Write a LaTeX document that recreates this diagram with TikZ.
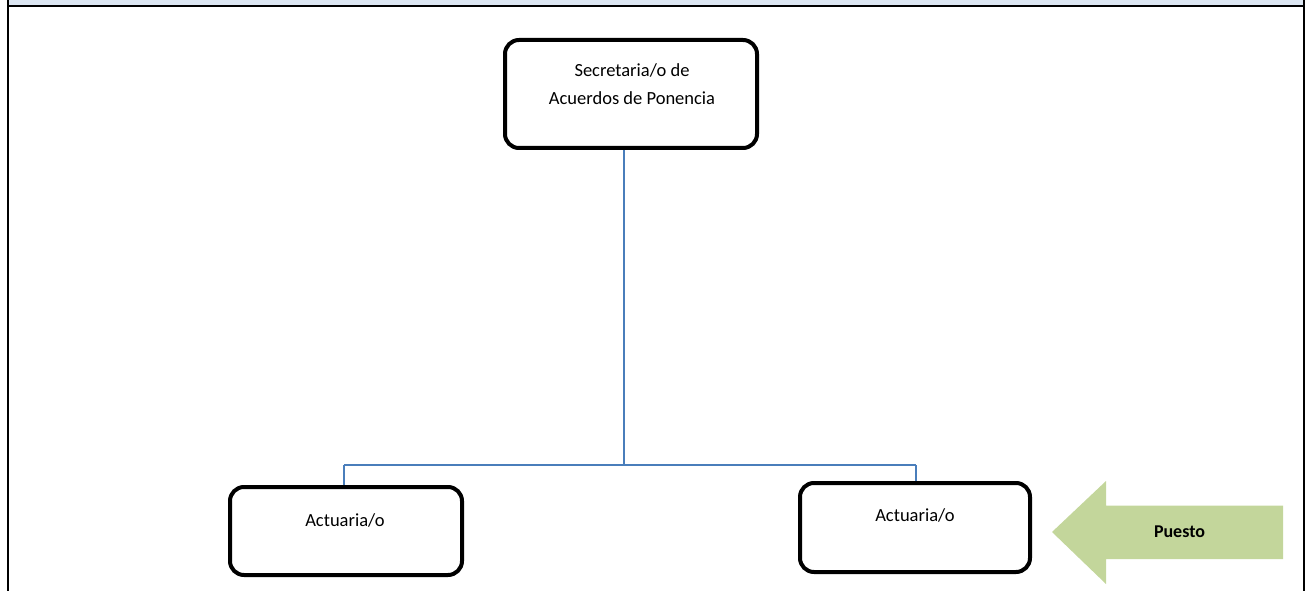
\documentclass[tikz,border=0pt]{standalone}
\usepackage{fontspec}
\setmainfont{Carlito}
\definecolor{bandblue}{HTML}{DCE6F2}
\definecolor{connblue}{HTML}{4A7EBB}
\definecolor{arrowgreen}{HTML}{C3D69B}
\begin{document}
\begin{tikzpicture}[x=1pt,y=-1pt,
  posbox/.style={draw=black, line width=4pt, rounded corners=14pt, fill=white, inner sep=0pt},
  boxtext/.style={font=\fontsize{18.5}{28}\selectfont, align=center, inner sep=0pt},
  conn/.style={draw=connblue, line width=1.5pt}]
\useasboundingbox (0,0) rectangle (1307,591);
% header band and frame
\fill[bandblue] (8,0) rectangle (1304,6.5);
\draw[line width=2pt] (8,6.5) -- (1304,6.5);
\draw[line width=2pt] (8,0) -- (8,591);
\draw[line width=2.5pt] (1304,0) -- (1304,591);
% boxes
\node[posbox, minimum width=252pt, minimum height=108pt] (top) at (631,94) {};
\node[boxtext] (toptxt) at (632,84) {Secretaria/o de\\Acuerdos de Ponencia};
\node[posbox, minimum width=232pt, minimum height=88pt] (l) at (346,531) {};
\node[boxtext] (ltxt) at (345,520) {Actuaria/o};
\node[posbox, minimum width=230pt, minimum height=89pt] (r) at (915,527.5) {};
\node[boxtext] (rtxt) at (915,515) {Actuaria/o};
% connectors
\coordinate (j) at (624,465);
\coordinate (jl) at (344,465);
\coordinate (jr) at (916,465);
\draw[conn] (top.south -| j) -- (j);
\draw[conn] (jl) -- (jr);
\draw[conn] (jl) -- (jl |- l.north);
\draw[conn] (jr) -- (jr |- r.north);
% arrow
\fill[arrowgreen] (1052,532) -- (1106,481) -- (1106,505.5) -- (1283,505.5) -- (1283,559) -- (1106,559) -- (1106,584) -- cycle;
\node[font=\fontsize{18}{22}\selectfont\bfseries, inner sep=0pt] (puesto) at (1179.5,532) {Puesto};
\end{tikzpicture}
\end{document}
